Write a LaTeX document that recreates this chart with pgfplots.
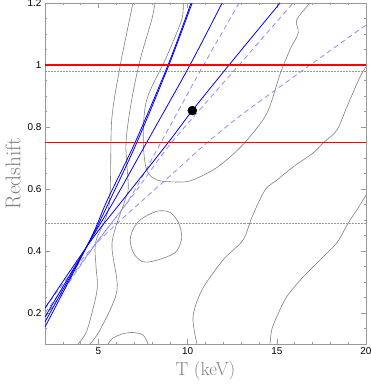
\documentclass[border=0pt]{standalone}
\usepackage{fontspec}
\setsansfont{Liberation Sans}
\usepackage{pgfplots}
\pgfplotsset{compat=1.18}

\begin{document}
\begin{tikzpicture}
\begin{axis}[
    name=ax,
    scale only axis,
    width=321bp, height=341bp,
    xmin=2, xmax=20, ymin=0.1, ymax=1.2,
    xtick={5,10,15,20},
    minor xtick={3,4,6,7,8,9,11,12,13,14,16,17,18,19},
    ytick={0.2,0.4,0.6,0.8,1,1.2},
    minor ytick={0.15,0.25,0.3,0.35,0.45,0.5,0.55,0.65,0.7,0.75,0.85,0.9,0.95,1.05,1.1,1.15},
    tick align=inside,
    major tick length=5bp, minor tick length=2.5bp,
    axis line style={gray!80},
    every tick/.style={gray!80},
    ticklabel style={font=\sffamily\fontsize{10}{11}\selectfont},
    /pgf/number format/assume math mode=true,
    xlabel={T (keV)}, ylabel={Redshift},
    xlabel style={font=\fontsize{19}{20}\selectfont, text=gray},
    ylabel style={font=\fontsize{21.5}{22}\selectfont, text=gray},
    contour/.style={gray, line width=0.6bp, smooth},
    solid blue/.style={blue, line width=0.8bp},
    dashed blue/.style={blue!45, line width=0.8bp, dash pattern=on 5bp off 3.5bp},
]
% contours
\addplot[contour] coordinates {(6.93,1.2)(6.54,1.091)(6.21,0.996)(5.74,0.822)(5.6,0.55)(4.85,0.43)(4.86,0.35)(4.92,0.274)(4.36,0.145)(3.85,0.1)};
\addplot[contour] coordinates {(8.17,1.2)(7.98,1.145)(7.33,1.016)(6.86,0.887)(6.54,0.747)(6.67,0.607)(6.49,0.564)(5.76,0.426)(6.04,0.274)(5.08,0.145)(4.52,0.1)};
\addplot[contour] coordinates {(9.75,1.2)(9.66,1.145)(8.82,1.027)(7.70,0.887)(7.51,0.758)(7.70,0.661)(8.28,0.629)(9.18,0.623)(10.13,0.626)(11.42,0.661)(12.37,0.703)(13.33,0.758)(14.45,0.845)(15.18,0.97)(15.74,1.05)(16.2,1.103)(16.11,1.145)(16.86,1.2)};
\addplot[contour] coordinates {(20,0.994)(19.66,0.961)(18.93,0.865)(18.37,0.79)(17.59,0.748)(17.03,0.716)(15.91,0.671)(15.01,0.629)(14.34,0.597)(13.61,0.51)(13.1,0.435)(11.98,0.371)(10.80,0.274)(10.30,0.187)(10.52,0.1)};
\addplot[contour] coordinates {(20,0.58)(19.48,0.532)(19.0,0.49)(18.36,0.426)(17.42,0.371)(16.47,0.316)(15.55,0.252)(14.99,0.187)(14.71,0.145)(14.62,0.1)};
\addplot[contour, smooth cycle] coordinates {(7.33,0.5)(8.26,0.528)(9.0,0.525)(9.5,0.49)(9.66,0.44)(9.3,0.395)(8.26,0.37)(7.5,0.365)(7.0,0.39)(6.78,0.43)(6.9,0.465)};
\addplot[contour] coordinates {(5.53,0.1)(5.81,0.119)(6.37,0.133)(6.93,0.137)(7.50,0.129)(7.78,0.1)};
% dotted levels
\addplot[gray!80, densely dotted, line width=0.5bp] coordinates {(2,0.981)(20,0.981)};
\addplot[gray!80, densely dotted, line width=0.5bp] coordinates {(2,0.489)(20,0.489)};
% dashed tracks
\addplot[dashed blue, smooth] coordinates {(2,0.185)(4.8,0.42)(6.7,0.565)(8.5,0.75)(10.6,0.97)(12.88,1.2)};
\addplot[dashed blue, smooth] coordinates {(2,0.2)(4.8,0.42)(7.0,0.585)(9.1,0.75)(12.88,1.0)(15.91,1.2)};
\addplot[dashed blue, smooth] coordinates {(2,0.215)(4.8,0.42)(9.57,0.671)(11.1,0.75)(13.5,0.86)(20,1.129)};
% solid tracks
\addplot[solid blue, smooth] coordinates {(2,0.155)(4.52,0.435)(5.5,0.565)(7.05,0.75)(8.90,1.0)(10.19,1.2)};
\addplot[solid blue, smooth] coordinates {(2,0.171)(4.53,0.435)(5.65,0.565)(7.15,0.75)(8.95,1.0)(10.25,1.2)};
\addplot[solid blue, smooth] coordinates {(2,0.187)(4.55,0.435)(5.9,0.565)(7.70,0.75)(10.13,1.0)(11.93,1.2)};
\addplot[solid blue, smooth] coordinates {(2,0.216)(4.6,0.435)(6.37,0.565)(8.91,0.75)(10.26,0.853)(12.32,1.0)(15.18,1.2)};
% redshift limits
\addplot[red, line width=1.5bp] coordinates {(2,1.0)(20,1.0)};
\addplot[red, line width=1.5bp] coordinates {(2,0.75)(20,0.75)};
% cluster
\addplot[only marks, mark=*, mark size=4.5bp, black] coordinates {(10.26,0.853)};
\end{axis}
\pgfresetboundingbox
\path ([shift={(-45bp,-42bp)}]ax.south west) rectangle ([shift={(5bp,3bp)}]ax.north east);
\end{tikzpicture}
\end{document}
